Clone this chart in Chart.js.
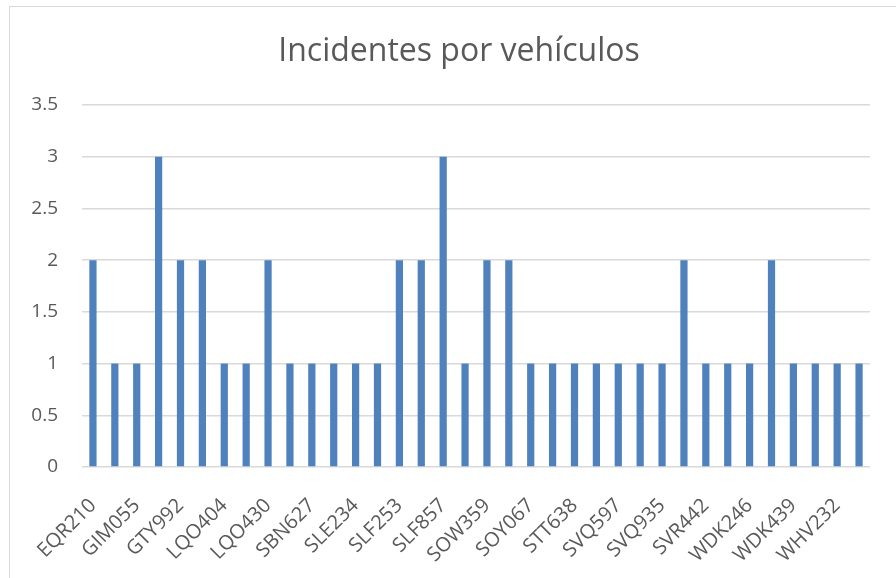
<!DOCTYPE html>
<html>
<head>
<meta charset="utf-8">
<script src="https://cdn.jsdelivr.net/npm/chart.js@4/dist/chart.umd.min.js"></script>
<style>
    html, body { margin: 0; padding: 0; background: #fff; overflow: hidden; }
    #frame {
        position: absolute;
        left: 9px;
        top: 6px;
        width: 898px;
        height: 600px;
        border: 1px solid #d9d9d9;
    }
    canvas { display: block; }
</style>
</head>
<body>
<div id="frame"><canvas id="chart" width="898" height="571"></canvas></div>
<script>
// Matrículas (solo se ve una de cada dos en el eje)
const vehiculos = [
    'EQR210', 'FHX384', 'GIM055', 'GOT617', 'GTY992', 'KRB150',
    'LQO404', 'LQO417', 'LQO430', 'RNC772', 'SBN627', 'SDL519',
    'SLE234', 'SLE908', 'SLF253', 'SLF611', 'SLF857', 'SMX042',
    'SOW359', 'SOX826', 'SOY067', 'SRP390', 'STT638', 'SUK205',
    'SVQ597', 'SVQ714', 'SVQ935', 'SVR118', 'SVR442', 'TZJ063',
    'WDK246', 'WDK301', 'WDK439', 'WFE872', 'WHV232', 'XKB560'
];

const incidentes = [
    2, 1, 1, 3, 2, 2, 1, 1, 2, 1, 1, 1,
    1, 1, 2, 2, 3, 1, 2, 2, 1, 1, 1, 1,
    1, 1, 1, 2, 1, 1, 1, 2, 1, 1, 1, 1
];

const yTicks = [0, 0.5, 1, 1.5, 2, 2.5, 3, 3.5];

const textColor = '#595959';
const gridColor = '#d9d9d9';
const fontFamily = "'Open Sans', sans-serif";

const ctx = document.getElementById('chart').getContext('2d');
new Chart(ctx, {
    type: 'bar',
    data: {
        labels: vehiculos,
        datasets: [{
            label: 'Incidentes',
            data: incidentes,
            backgroundColor: '#4f81bd',
            borderWidth: 0,
            categoryPercentage: 1,
            barPercentage: 0.33
        }]
    },
    options: {
        responsive: false,
        animation: false,
        layout: {
            padding: 0
        },
        plugins: {
            legend: { display: false },
            tooltip: { enabled: false },
            title: {
                display: true,
                text: 'Incidentes por vehículos',
                color: textColor,
                font: { family: fontFamily, size: 32, weight: 'normal', lineHeight: 1.2 },
                padding: { top: 26, bottom: 33.6 }
            }
        },
        scales: {
            x: {
                grid: { display: false, drawTicks: false },
                border: { display: false },
                ticks: {
                    autoSkip: false,
                    minRotation: 45,
                    maxRotation: 45,
                    padding: 27,
                    color: textColor,
                    font: { family: fontFamily, size: 20 },
                    callback: function (value, index) {
                        return index % 2 === 0 ? this.getLabelForValue(value) : '';
                    }
                },
                afterFit: function (scale) {
                    scale.height = 571 - 460;
                }
            },
            y: {
                min: 0,
                max: 3.5,
                afterBuildTicks: function (scale) {
                    scale.ticks = yTicks.map(v => ({ value: v }));
                },
                grid: { color: gridColor, lineWidth: 1.5, drawTicks: false },
                border: { display: false },
                ticks: {
                    padding: 24,
                    color: textColor,
                    font: { family: fontFamily, size: 19 },
                    callback: value => String(value)
                },
                afterFit: function (scale) {
                    scale.width = 72;
                }
            },
            // eje vacío a la derecha: deja el margen y centra el título como en Excel
            margen: {
                position: 'right',
                min: 0,
                max: 3.5,
                grid: { display: false },
                border: { display: false },
                ticks: { display: false },
                afterFit: function (scale) {
                    scale.width = 38;
                }
            }
        }
    }
});
</script>
</body>
</html>
